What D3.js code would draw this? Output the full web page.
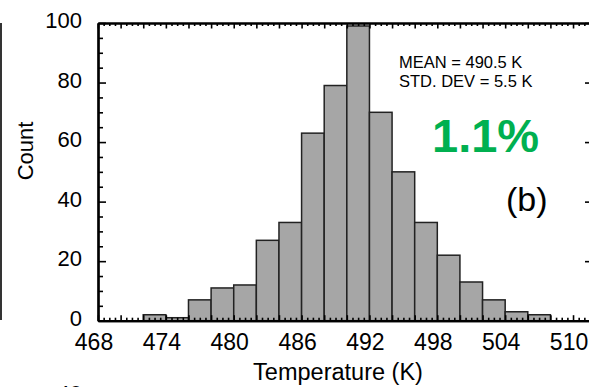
<!DOCTYPE html>
<html>
<head>
<meta charset="utf-8">
<script src="https://cdn.jsdelivr.net/npm/d3@7"></script>
<style>
  body { margin: 0; background: #fff; }
  svg { display: block; font-family: "Liberation Sans", Arial, sans-serif; }
</style>
</head>
<body>
<div id="chart"></div>
<script>
// histogram bins (2 K wide), left edges and counts
var binStarts = [472, 474, 476, 478, 480, 482, 484, 486, 488, 490, 492, 494, 496, 498, 500, 502, 504, 506];
var counts    = [2, 1, 7, 11, 12, 27, 33, 63, 79, 99, 70, 50, 33, 22, 13, 7, 3, 2];
var binWidth = 2;

var xTickLabels = [468, 474, 480, 486, 492, 498, 504, 510];
var yTickLabels = [0, 20, 40, 60, 80, 100];

var svgWidth = 589;
var svgHeight = 387;

var svg = d3.select("#chart")
  .append("svg")
  .attr("width", svgWidth)
  .attr("height", svgHeight);

var x = d3.scaleLinear().domain([468, 511.5]).range([98, 590]);
var y = d3.scaleLinear().domain([0, 100]).range([320.7, 23]);

// bars
svg.selectAll("rect.bar").data(binStarts).enter().append("rect")
  .attr("class", "bar")
  .attr("x", d => x(d))
  .attr("width", d => x(d + binWidth) - x(d))
  .attr("y", (d, i) => y(counts[i]))
  .attr("height", (d, i) => y(0) - y(counts[i]))
  .attr("fill", "#a6a6a6")
  .attr("stroke", "#222")
  .attr("stroke-width", 1.5);

// tick helpers
var xMajor = d3.range(468, 511, 2);
var xMinor = d3.range(468, 511.6, 0.5).filter(v => v % 2 !== 0);
var yMajor = yTickLabels;
var yMinor = d3.range(0, 101, 5).filter(v => v % 20 !== 0);

function styleAxis(g, width) {
  g.selectAll(".domain").attr("stroke", "#000").attr("stroke-width", width);
  g.selectAll(".tick line").attr("stroke", "#000").attr("stroke-width", 1.6);
  g.selectAll(".tick text").remove();
}

// bottom axis (ticks inward)
svg.append("g").attr("transform", `translate(0,${y(0)})`)
  .call(d3.axisBottom(x).tickValues(xMinor).tickSizeInner(-3).tickSizeOuter(0))
  .call(g => styleAxis(g, 2.2));
svg.append("g").attr("transform", `translate(0,${y(0)})`)
  .call(d3.axisBottom(x).tickValues(xMajor).tickSizeInner(-5.5).tickSizeOuter(0))
  .call(g => styleAxis(g, 2.2));

// top axis
svg.append("g").attr("transform", `translate(0,${y(100)})`)
  .call(d3.axisTop(x).tickValues(xMinor).tickSizeInner(-3).tickSizeOuter(0))
  .call(g => styleAxis(g, 2.2));
svg.append("g").attr("transform", `translate(0,${y(100)})`)
  .call(d3.axisTop(x).tickValues(xMajor).tickSizeInner(-5.5).tickSizeOuter(0))
  .call(g => styleAxis(g, 2.2));

// left axis
svg.append("g").attr("transform", `translate(${x(468)},0)`)
  .call(d3.axisLeft(y).tickValues(yMinor).tickSizeInner(-5).tickSizeOuter(0))
  .call(g => styleAxis(g, 2.2));
svg.append("g").attr("transform", `translate(${x(468)},0)`)
  .call(d3.axisLeft(y).tickValues(yMajor).tickSizeInner(-8).tickSizeOuter(0))
  .call(g => styleAxis(g, 2.2));

// right axis (mostly outside the picture)
svg.append("g").attr("transform", `translate(${x(511.5)},0)`)
  .call(d3.axisRight(y).tickValues(yMajor).tickSizeInner(-5).tickSizeOuter(0))
  .call(g => styleAxis(g, 2.2));

// tick labels
svg.selectAll("text.xlab").data(xTickLabels).enter().append("text")
  .attr("class", "xlab")
  .attr("x", d => x(d) - 4)
  .attr("y", 349.5)
  .attr("text-anchor", "middle")
  .style("font-size", "23px")
  .text(d => d);

svg.selectAll("text.ylab").data(yTickLabels).enter().append("text")
  .attr("class", "ylab")
  .attr("x", 82)
  .attr("y", d => y(d) + 5)
  .attr("text-anchor", "end")
  .style("font-size", "22px")
  .text(d => d);

// axis titles
svg.append("text")
  .attr("transform", "translate(33,151) rotate(-90)")
  .attr("text-anchor", "middle")
  .style("font-size", "22px")
  .text("Count");

svg.append("text")
  .attr("x", 338)
  .attr("y", 379.5)
  .attr("text-anchor", "middle")
  .style("font-size", "23.5px")
  .text("Temperature (K)");

// annotations
svg.append("text").attr("x", 399).attr("y", 67.7)
  .style("font-size", "16.5px").text("MEAN = 490.5 K");
svg.append("text").attr("x", 399).attr("y", 87.3)
  .style("font-size", "16.5px").text("STD. DEV = 5.5 K");

svg.append("text").attr("x", 432).attr("y", 151.7)
  .style("font-size", "47px").style("font-weight", "bold")
  .attr("fill", "#00b050")
  .text("1.1%");

svg.append("text").attr("x", 506).attr("y", 210.5)
  .style("font-size", "34px")
  .text("(b)");

// pieces of the neighbouring panels
svg.append("line")
  .attr("x1", 1).attr("x2", 1).attr("y1", 23).attr("y2", 320)
  .attr("stroke", "#000").attr("stroke-width", 1.6);

svg.append("text")
  .attr("x", 82).attr("y", 401)
  .attr("text-anchor", "end")
  .style("font-size", "22px")
  .text("40");
</script>
</body>
</html>
